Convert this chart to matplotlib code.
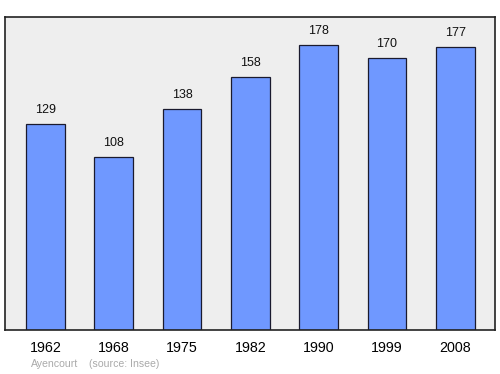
import matplotlib
matplotlib.use("Agg")
import matplotlib.pyplot as plt

years = ["1962", "1968", "1975", "1982", "1990", "1999", "2008"]
population = [129, 108, 138, 158, 178, 170, 177]

plt.rcParams['font.family'] = ['Liberation Sans', 'DejaVu Sans']

fig = plt.figure(figsize=(5, 3.74), dpi=100)
ax = fig.add_axes([0.01, 0.1176, 0.98, 0.837])
ax.set_facecolor('#eeeeee')
x = list(range(len(years)))
ax.bar(x, population, width=0.57, color='#6f98ff', edgecolor='#1a1a2e', linewidth=0.9)
for xi, v in zip(x, population):
    ax.text(xi, v + 6.9, str(v), ha='center', va='baseline', fontsize=9, color='#111111')
ax.set_xlim(-0.59, 6.58)
ax.set_ylim(0, 195.6)
ax.set_yticks([])
ax.set_xticks(x)
ax.set_xticklabels(years, fontsize=10.3)
ax.tick_params(axis='x', length=0, pad=8)
for s in ax.spines.values():
    s.set_color('#222222')
    s.set_linewidth(1.2)
fig.text(31 / 500, 7 / 374, "Ayencourt", fontsize=7.6, color='#aaaaaa', ha='left', va='baseline')
fig.text(89 / 500, 7 / 374, "(source: Insee)", fontsize=7.6, color='#aaaaaa', ha='left', va='baseline')
fig.savefig("out.png", dpi=100)
